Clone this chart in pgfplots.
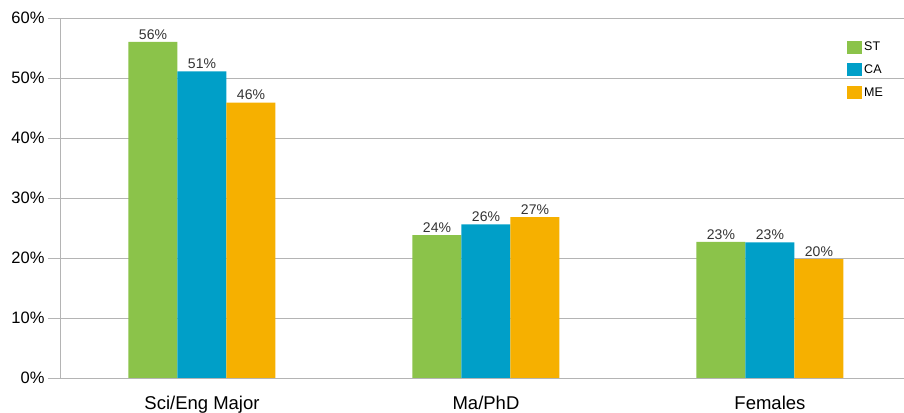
\documentclass[border=0pt]{standalone}
\usepackage{pgfplots}
\pgfplotsset{compat=1.18}
\usepackage{fontspec}
\setmainfont{Liberation Sans}
\definecolor{cgreen}{HTML}{8BC34A}
\definecolor{cblue}{HTML}{009FC8}
\definecolor{corange}{HTML}{F6B000}
\definecolor{cgrid}{HTML}{B4B4B4}
\begin{document}
\begin{tikzpicture}
\begin{axis}[
  scale only axis,
  width=844pt, height=360pt,
  xmin=-0.5, xmax=2.472,
  ymin=0, ymax=60,
  ybar=0pt, bar width=49pt,
  axis lines=left,
  axis line style={-, cgrid, line width=0.9pt},
  ymajorgrids,
  grid style={cgrid, line width=0.9pt},
  ytick={0,10,...,60},
  yticklabel={\pgfmathprintnumber{\tick}\%},
  xtick={0,1,2},
  xticklabels={Sci/Eng Major, Ma/PhD, Females},
  x tick label style={font=\fontsize{18.5}{20}\selectfont, yshift=-3pt},
  y tick label style={font=\fontsize{16.5}{18}\selectfont},
  /pgf/number format/assume math mode=true,
  major x tick style={draw=none},
  extra x ticks={-0.5,0.5,1.5},
  extra x tick labels={},
  extra x tick style={major tick length=8pt, tick align=outside, major tick style={cgrid, line width=0.9pt}},
  ytick style={cgrid, line width=0.9pt},
  major tick length=12pt,
  tick align=outside,
  nodes near coords={\pgfmathprintnumber[fixed,precision=0]{\pgfplotspointmeta}\%},
  nodes near coords style={font=\fontsize{14}{15}\selectfont, text=black!80, yshift=-1pt},
  legend style={at={(0.9325,0.939)}, anchor=north west, draw=none, fill=none,
    font=\fontsize{12.5}{13}\selectfont, row sep=8.5pt, inner sep=0pt},
  legend cell align=left,
  legend image code/.code={\fill[#1] (0pt,-6.5pt) rectangle (15pt,6.5pt);},
  clip=false,
]
\addplot[fill=cgreen, draw=none] coordinates {(0,56.0) (1,23.8) (2,22.7)};
\addplot[fill=cblue, draw=none] coordinates {(0,51.1) (1,25.6) (2,22.6)};
\addplot[fill=corange, draw=none] coordinates {(0,45.9) (1,26.8) (2,19.8)};
\legend{ST,CA,ME}
\end{axis}
\pgfresetboundingbox
\path ([xshift=-60pt,yshift=-35pt]current axis.south west) rectangle ([yshift=18pt]current axis.north east);
\end{tikzpicture}
\end{document}
